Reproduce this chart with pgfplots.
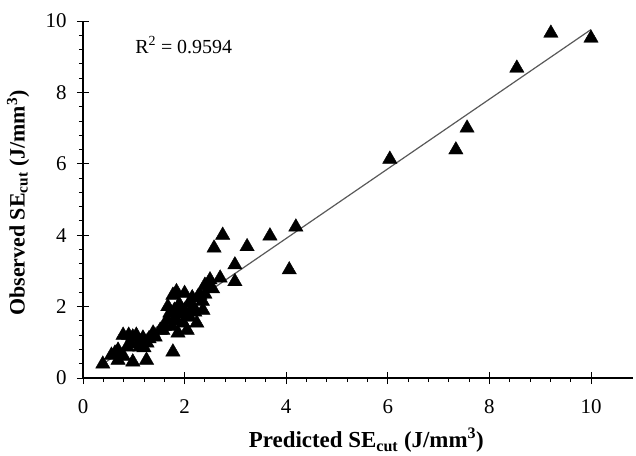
\documentclass[border=0pt]{standalone}
\usepackage{pgfplots}
\pgfplotsset{compat=1.18}
\usepackage{fontspec}
\setmainfont{Liberation Serif}
\begin{document}
\begin{tikzpicture}
\path[use as bounding box] (-83bp,-78bp) rectangle (553bp,378bp);
\begin{axis}[
  at={(0,0)}, anchor=origin,
  x=50.8bp, y=35.7bp,
  xmin=0, xmax=10.83, ymin=0, ymax=10,
  axis x line*=bottom, axis y line*=left,
  axis line style={-, line width=1.1bp, black},
  xtick={0,2,...,10}, ytick={0,2,...,10},
  minor x tick num=4, minor y tick num=4,
  tick align=outside,
  major tick length=6bp, minor tick length=4bp,
  every tick/.style={black, line width=0.9bp},
  extra x ticks={0,2,...,10}, extra x tick labels={},
  extra x tick style={tick align=inside, major tick length=6bp},
  extra y ticks={0,2,...,10}, extra y tick labels={},
  extra y tick style={tick align=inside, major tick length=6bp},
  /pgf/number format/assume math mode=true,
  ticklabel style={font=\fontsize{21}{24}\selectfont},
  xticklabel style={yshift=-12bp},
  yticklabel style={xshift=-7bp},
  xlabel={\bfseries Predicted SE\textsubscript{cut} (J/mm\textsuperscript{3})},
  ylabel={\bfseries Observed SE\textsubscript{cut} (J/mm\textsuperscript{3})},
  xlabel style={font=\fontsize{23}{26}\selectfont, at={(axis description cs:0.515,-0.174)}, anchor=center},
  ylabel style={font=\fontsize{22}{26}\selectfont, at={(axis description cs:-0.118,0.49)}, anchor=center},
  clip=false,
]
\addplot[no marks, color=black!65, line width=1.2bp] coordinates {(0.38,0.38) (10.0,9.76)};
\addplot[only marks, mark=triangle*, mark size=8.3bp, color=black] coordinates {
(10.0,9.52) (9.21,9.66) (8.54,8.68) (7.56,7.0) (7.34,6.39) (6.04,6.13)
(4.19,4.23) (3.68,3.98) (4.06,3.03) (3.23,3.68) (2.75,4.0) (2.58,3.64)
(2.99,3.17) (2.99,2.7) (2.70,2.8) (2.5,2.75)
(2.46,2.6) (2.3,2.32) (2.26,2.27) (2.0,2.37) (1.77,2.32) (1.87,2.0)
(1.67,2.0) (1.9,2.05) (2.17,2.0) (2.36,1.9) (2.1,1.7) (2.24,1.54)
(1.97,1.54) (2.05,1.34) (1.87,1.26) (1.65,1.62) (1.52,1.34) (1.57,1.34)
(1.38,1.26) (1.42,1.15) (1.18,1.12) (0.98,1.15) (0.79,1.2) (0.87,0.87)
(0.63,0.7) (1.12,0.87) (1.26,0.98) (0.39,0.39) (0.56,0.64) (0.69,0.78)
(0.69,0.5) (0.98,0.45) (1.25,0.5) (1.77,0.73) (0.9,1.2) (1.05,1.2)
(1.3,1.1) (1.71,1.82) (1.8,1.9) (2.1,2.1) (2.2,1.85) (1.95,1.8)
(1.85,1.6) (1.75,1.45) (1.6,1.45) (2.15,2.25) (2.4,2.35) (2.55,2.5)
(2.35,2.15) (2.0,1.9) (1.8,1.65) (0.8,0.6) (1.1,1.0) (1.2,0.85)
(0.95,0.95) (1.84,2.42) (2.4,2.6)
};
\node[anchor=west, font=\fontsize{20}{24}\selectfont] at (axis cs:0.96,9.33) {R\textsuperscript{2} = 0.9594};
\end{axis}
\end{tikzpicture}
\end{document}
